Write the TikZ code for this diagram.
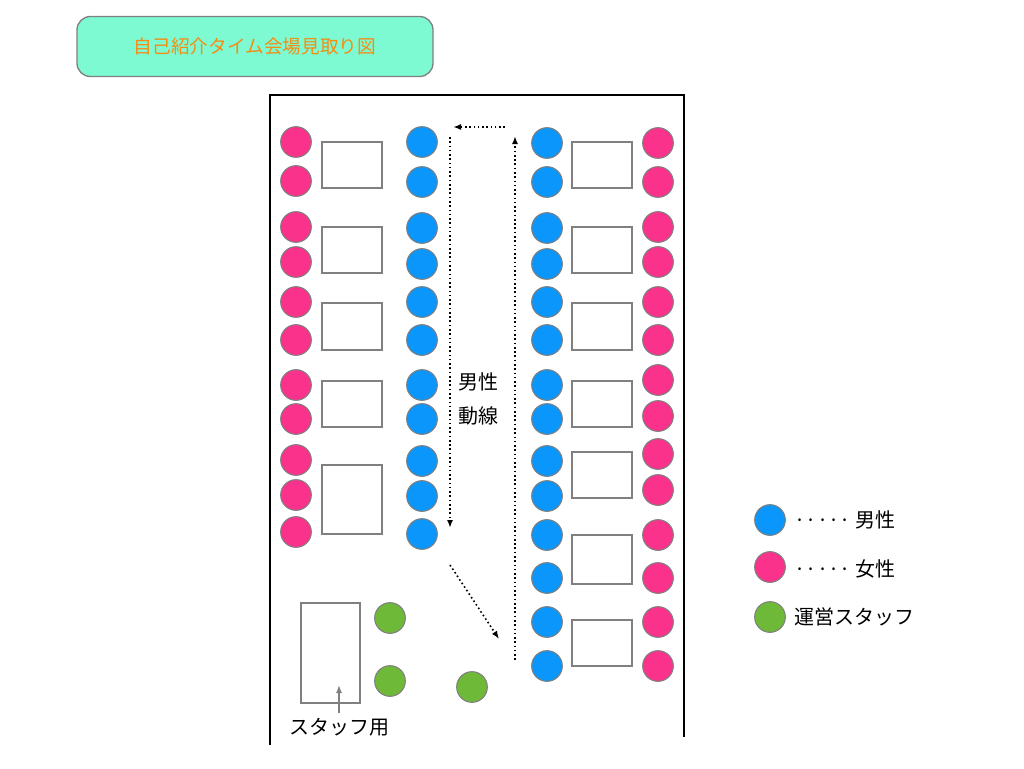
\documentclass[tikz,border=0pt]{standalone}
\usepackage{fontspec}
\setmainfont{Noto Sans CJK JP}
\usetikzlibrary{arrows.meta}
\definecolor{mblue}{RGB}{10,150,250}
\definecolor{mpink}{RGB}{250,50,140}
\definecolor{mgreen}{RGB}{110,185,55}
\definecolor{mint}{RGB}{125,250,210}
\definecolor{morange}{RGB}{245,140,20}
\tikzset{
 seat/.style={circle,draw=gray,line width=0.8pt,minimum size=23pt,inner sep=0pt},
 bseat/.style={seat,fill=mblue},
 pseat/.style={seat,fill=mpink},
 gseat/.style={seat,fill=mgreen},
 tbl/.style={draw=gray,line width=0.8pt},
 flow/.style={dotted,line width=1.2pt,-{Latex[length=6pt]}},
 lbl/.style={font=\fontsize{15}{18}\selectfont}
}
\begin{document}
\begin{tikzpicture}[x=0.75pt,y=-0.75pt]
\useasboundingbox (0,0) rectangle (1024,768);
\node[draw=gray,fill=mint,rounded corners=10pt,line width=1pt,minimum width=267pt,minimum height=45pt,text=morange,font=\fontsize{14}{16}\selectfont] (title) at (255,46.5) {自己紹介タイム会場見取り図};
\draw[line width=1pt] (270,745) -- (270,95) -- (684,95) -- (684,737);
% left pink
\foreach \y [count=\i] in {142,181,227,262,302,340,385,419,460,495,532} \node[pseat] (lp\i) at (296,\y) {};
\foreach \y [count=\i] in {142,182,228,264,302,340,385,419,461,496,534} \node[bseat] (lb\i) at (422,\y) {};
\foreach \y [count=\i] in {143,182,228,264,302,340,385,419,461,496,535,578,622,666} \node[bseat] (rb\i) at (547,\y) {};
\foreach \y [count=\i] in {143,182,227,262,302,340,380,416,454,490,535,578,622,666} \node[pseat] (rp\i) at (658,\y) {};
\foreach \a/\b in {142/188,227/273,303/350,381/427,465/534} \draw[tbl] (322,\a) rectangle (382,\b);
\foreach \a/\b in {142/188,227/273,303/350,381/427,452/498,535/584,620/666} \draw[tbl] (572,\a) rectangle (632,\b);
\draw[tbl] (301,603) rectangle (360,703);
\node[gseat] (g1) at (390,618) {};
\node[gseat] (g2) at (390,681) {};
\node[gseat] (g3) at (472,687) {};
\coordinate (f1) at (515,660); \coordinate (f2) at (515,136);
\coordinate (f3) at (505,127); \coordinate (f4) at (453,127);
\coordinate (f5) at (450,137); \coordinate (f6) at (450,528);
\coordinate (f7) at (450,565); \coordinate (f8) at (499,639);
\draw[flow] (f1) -- (f2);
\draw[flow] (f3) -- (f4);
\draw[flow] (f5) -- (f6);
\draw[flow] (f7) -- (f8);
\node[lbl] (m1) at (478,382) {男性};
\node[lbl] (m2) at (478,416) {動線};
\node[lbl] (st) at (339,727) {スタッフ用};
\coordinate (sa) at (339,685);
\draw[gray,line width=1pt,-{Latex[length=6pt]}] (st.north) -- (sa);
\node[bseat] (k1) at (770,520) {};
\node[pseat] (k2) at (770,567) {};
\node[gseat] (k3) at (770,617) {};
\node[lbl,anchor=west] (t1) at (790,520) {····· 男性};
\node[lbl,anchor=west] (t2) at (790,569) {·····  女性};
\node[lbl,anchor=west] (t3) at (790,617) {運営スタッフ};
\end{tikzpicture}
\end{document}
